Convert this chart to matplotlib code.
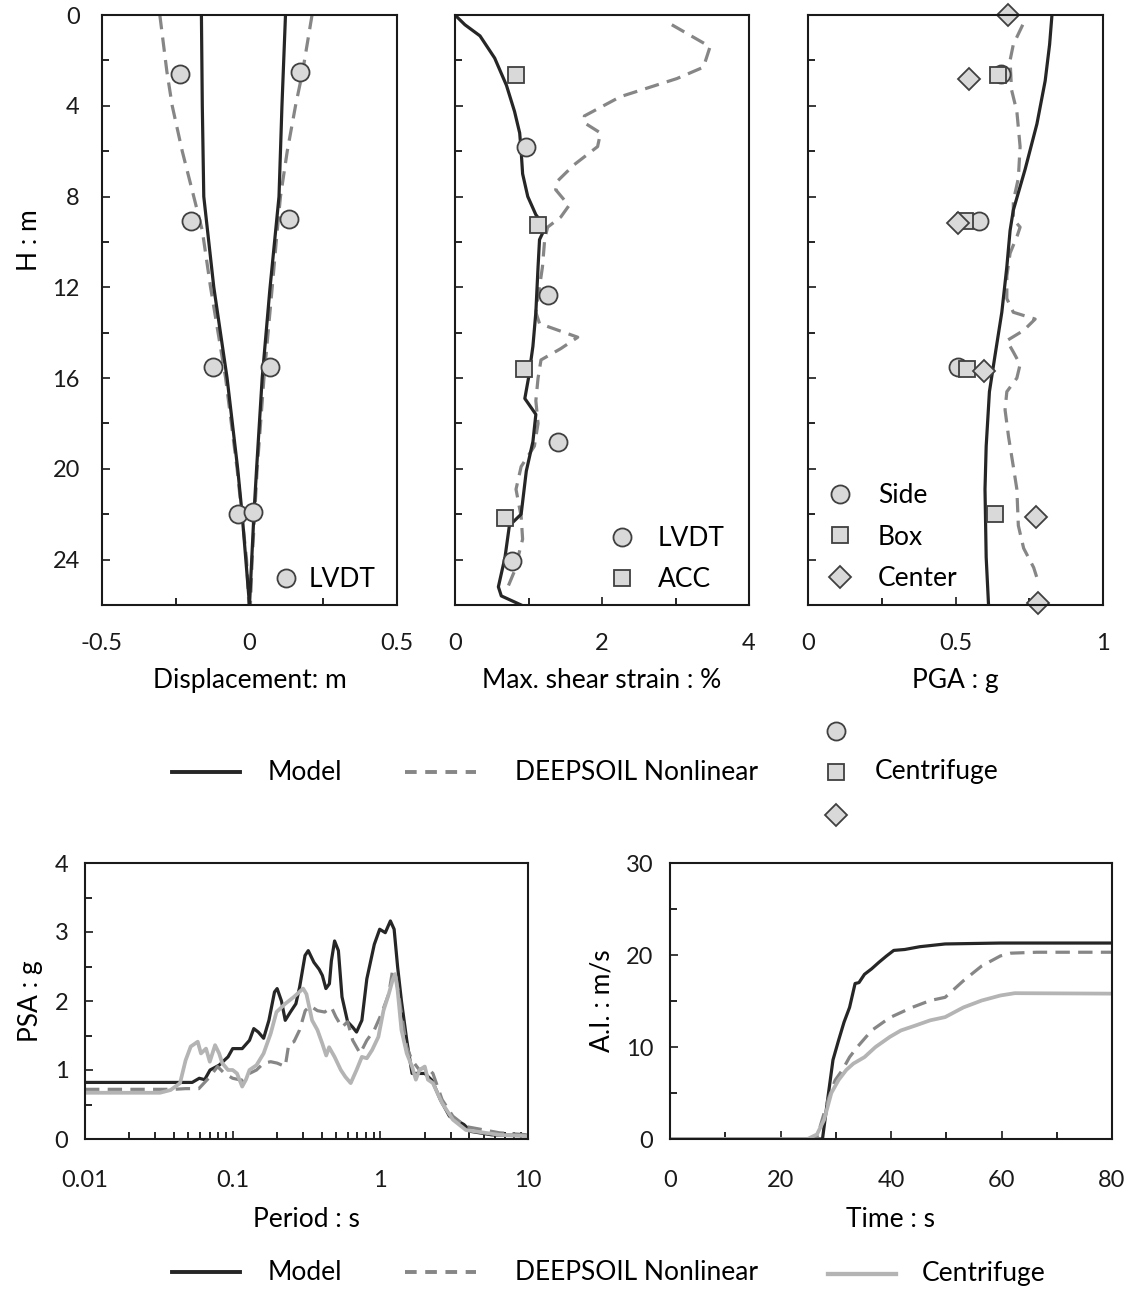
import numpy as np
import matplotlib
matplotlib.use("Agg")
import matplotlib.pyplot as plt
from matplotlib.ticker import MultipleLocator, FixedLocator, NullFormatter, LogLocator

plt.rcParams['font.family'] = ['Lato', 'DejaVu Sans']

# ---------------- data ----------------
# Displacement profile (m) vs depth H (m)
disp_model_pos_H = [0, 4, 8, 12.1, 16, 20, 22, 26]
disp_model_pos = [0.122, 0.11, 0.10, 0.069, 0.043, 0.024, 0.015, 0.0]
disp_model_neg_H = [0, 4, 8, 10, 12, 16, 20, 22, 26]
disp_model_neg = [-0.163, -0.16, -0.155, -0.138, -0.121, -0.076, -0.04, -0.025, 0.0]
disp_deep_pos_H = [0, 2.5, 4, 6, 8, 9.5, 12, 16, 20, 24, 26]
disp_deep_pos = [0.212, 0.18, 0.156, 0.128, 0.105, 0.094, 0.077, 0.049, 0.026, 0.009, 0.003]
disp_deep_neg_H = [0, 2.5, 4, 6, 8, 9.5, 12, 16, 20, 24, 26]
disp_deep_neg = [-0.304, -0.28, -0.262, -0.228, -0.189, -0.16, -0.132, -0.081, -0.042, -0.01, -0.002]
lvdt_disp = [-0.234, 0.17, -0.198, 0.134, -0.125, 0.071, -0.038, 0.012]
lvdt_disp_H = [2.6, 2.5, 9.1, 9.0, 15.5, 15.5, 22.0, 21.9]

# Max shear strain (%) vs depth
strain_model_H = [0, 0.43, 0.92, 1.9, 3.1, 4.25, 5.2, 6.0, 7.0, 8.0, 8.8, 9.35, 9.9, 11.1, 13.1,
                  14.6, 16.0, 16.9, 17.6, 18.8, 20.1, 22.0, 22.5, 23.9, 25.2, 25.6, 26]
strain_model = [0, 0.135, 0.34, 0.54, 0.70, 0.81, 0.88, 0.90, 0.92, 0.99, 1.10, 1.23, 1.15, 1.13, 1.10,
                1.06, 1.0, 0.95, 1.10, 1.06, 0.97, 0.90, 0.74, 0.68, 0.59, 0.63, 0.90]
strain_deep_H = [0.43, 1.4, 2.3, 2.8, 3.6, 4.45, 4.75, 5.2, 5.8, 6.6, 7.3, 7.7, 8.4, 8.9, 9.35, 9.9,
                 11.1, 13.1, 13.6, 14.2, 14.7, 15.2, 16.0, 17.0, 18.0, 19.0, 19.9, 20.9, 22.1, 23.1,
                 24.5, 25.2]
strain_deep = [2.95, 3.47, 3.38, 3.02, 2.25, 1.76, 1.76, 1.98, 1.94, 1.62, 1.40, 1.37, 1.55, 1.44, 1.26,
               1.22, 1.19, 1.10, 1.15, 1.67, 1.44, 1.17, 1.13, 1.10, 1.13, 1.08, 0.90, 0.83, 0.90, 0.92,
               0.81, 0.72]
lvdt_strain = [0.96, 1.26, 1.40, 0.77]
lvdt_strain_H = [5.8, 12.35, 18.8, 24.05]
acc_strain = [0.83, 1.13, 0.94, 0.68]
acc_strain_H = [2.65, 9.25, 15.6, 22.15]

# PGA (g) vs depth
pga_model_H = [0, 1.3, 2.9, 4.8, 6.8, 8.6, 9.5, 11.1, 13.1, 15.0, 16.6, 19.0, 20.9, 23.9, 26]
pga_model = [0.827, 0.819, 0.804, 0.776, 0.736, 0.696, 0.685, 0.674, 0.657, 0.634, 0.615, 0.604,
             0.60, 0.604, 0.612]
pga_deep_H = [0.43, 1.3, 2.0, 3.3, 4.25, 5.8, 7.2, 8.2, 9.0, 9.35, 9.7, 10.5, 11.5, 12.5, 13.1, 13.4,
              13.9, 14.35, 14.85, 15.4, 16.0, 16.6, 17.4, 18.6, 19.9, 20.9, 22.5, 23.5, 24.35, 24.8]
pga_deep = [0.728, 0.696, 0.685, 0.69, 0.708, 0.719, 0.713, 0.696, 0.696, 0.719, 0.71, 0.685, 0.674,
            0.674, 0.696, 0.77, 0.731, 0.674, 0.696, 0.719, 0.708, 0.674, 0.668, 0.68, 0.696, 0.708,
            0.713, 0.731, 0.765, 0.776]
side_pga = [0.655, 0.578, 0.51]
side_pga_H = [2.6, 9.1, 15.5]
box_pga = [0.645, 0.532, 0.54, 0.634]
box_pga_H = [2.65, 9.1, 15.6, 22.0]
center_pga = [0.677, 0.547, 0.507, 0.595, 0.773, 0.778]
center_pga_H = [0.0, 2.8, 9.15, 15.7, 22.1, 25.9]

# Response spectra PSA (g) vs period (s)
psa_model_T = [0.01, 0.0427, 0.0532, 0.0594, 0.0646, 0.0703, 0.081, 0.093, 0.1, 0.116, 0.13, 0.139,
               0.149, 0.162, 0.176, 0.192, 0.2, 0.214, 0.227, 0.246, 0.268, 0.284, 0.309, 0.325,
               0.355, 0.385, 0.405, 0.428, 0.452, 0.466, 0.49, 0.52, 0.55, 0.6, 0.65, 0.69, 0.75,
               0.81, 0.91, 0.99, 1.08, 1.17, 1.24, 1.31, 1.39, 1.51, 1.64, 1.79, 2.0, 2.24, 2.55,
               2.94, 3.68, 4.1, 5.7, 10]
psa_model = [0.82, 0.82, 0.82, 0.88, 0.86, 1.0, 1.07, 1.19, 1.31, 1.31, 1.43, 1.6, 1.55, 1.46, 1.72,
             2.13, 2.18, 2.0, 1.72, 1.84, 1.96, 2.2, 2.66, 2.73, 2.56, 2.46, 2.37, 2.18, 2.25, 2.58,
             2.87, 2.73, 2.06, 1.7, 1.62, 1.55, 1.72, 2.32, 2.82, 3.04, 2.99, 3.16, 3.04, 2.49, 2.0,
             1.43, 0.95, 0.95, 0.95, 0.85, 0.57, 0.33, 0.21, 0.11, 0.06, 0.05]
psa_deep_T = [0.01, 0.04, 0.048, 0.059, 0.07, 0.079, 0.088, 0.1, 0.116, 0.13, 0.145, 0.162, 0.181, 0.2,
              0.227, 0.24, 0.26, 0.284, 0.31, 0.335, 0.375, 0.42, 0.466, 0.5, 0.55, 0.6, 0.65, 0.73,
              0.81, 0.91, 1.02, 1.14, 1.21, 1.28, 1.39, 1.51, 1.64, 1.84, 2.04, 2.27, 2.62, 3.1, 3.8,
              6.4, 10]
psa_deep = [0.72, 0.72, 0.73, 0.73, 0.9, 1.05, 0.95, 0.88, 0.85, 0.95, 1.0, 1.1, 1.12, 1.1, 1.05, 1.38,
            1.41, 1.58, 1.86, 1.93, 1.86, 1.84, 1.91, 1.77, 1.62, 1.7, 1.43, 1.24, 1.43, 1.58, 1.82,
            2.1, 2.44, 2.34, 1.82, 1.33, 1.14, 1.0, 1.05, 0.95, 0.57, 0.33, 0.18, 0.09, 0.06]
psa_cent_T = [0.01, 0.0322, 0.038, 0.044, 0.048, 0.052, 0.058, 0.061, 0.066, 0.07, 0.076, 0.081, 0.085,
              0.093, 0.1, 0.107, 0.116, 0.123, 0.13, 0.145, 0.162, 0.181, 0.198, 0.227, 0.26, 0.3,
              0.316, 0.345, 0.375, 0.405, 0.43, 0.45, 0.49, 0.54, 0.58, 0.63, 0.69, 0.75, 0.81, 0.88,
              0.97, 1.05, 1.14, 1.21, 1.26, 1.31, 1.39, 1.51, 1.64, 1.74, 1.84, 2.0, 2.1, 2.27, 2.62,
              3.1, 3.8, 6.4, 10]
psa_cent = [0.67, 0.67, 0.71, 0.81, 1.14, 1.34, 1.41, 1.24, 1.31, 1.12, 1.36, 1.24, 1.1, 1.0, 1.0,
            0.95, 0.76, 0.86, 1.0, 1.07, 1.24, 1.53, 1.84, 1.96, 2.06, 2.18, 2.1, 1.72, 1.58, 1.38,
            1.21, 1.33, 1.19, 1.0, 0.9, 0.81, 1.0, 1.19, 1.17, 1.29, 1.48, 1.86, 2.1, 2.3, 2.39,
            2.15, 1.58, 1.24, 1.05, 0.86, 1.0, 1.05, 0.86, 0.81, 0.52, 0.28, 0.13, 0.06, 0.04]

# Arias intensity (m/s) vs time (s)
ai_model_t = [0, 27.6, 28.6, 29.5, 30.5, 31.5, 32.5, 33.5, 34.2, 35.2, 36.5, 37.8, 39.2, 40.5, 42.5,
              45.2, 49.8, 59.8, 80]
ai_model = [0, 0, 4.6, 8.6, 10.7, 12.7, 14.3, 16.9, 17.0, 17.9, 18.5, 19.2, 19.9, 20.5, 20.6, 20.9,
            21.2, 21.3, 21.3]
ai_deep_t = [0, 26.5, 27.2, 28.6, 29.9, 31.2, 32.5, 33.9, 36.5, 39.8, 43.8, 47.1, 49.8, 53.1, 56.4,
             59.8, 61.7, 66.4, 80]
ai_deep = [0, 0, 1.4, 4.25, 6.4, 7.5, 8.9, 10.0, 11.8, 13.2, 14.3, 15.05, 15.4, 17.2, 18.8, 19.9,
           20.2, 20.3, 20.3]
ai_cent_t = [0, 24.9, 26.6, 27.9, 29.2, 30.5, 31.9, 33.2, 35.2, 37.2, 39.8, 41.8, 44.5, 47.1, 49.8,
             53.1, 56.4, 59.8, 62.4, 80]
ai_cent = [0, 0, 0.5, 2.1, 5.0, 6.4, 7.5, 8.2, 8.9, 10.0, 11.1, 11.8, 12.35, 12.9, 13.25, 14.3, 15.05,
           15.6, 15.85, 15.8]

# ---------------- styles ----------------
C_MODEL = '#262626'
C_DEEP = '#868686'
C_CENT = '#b4b4b4'
MFC = '#d9d9d9'
MEC = '#404040'
LW = 2.3
DASH = (0, (4.5, 2.6))
TFS = 17   # tick labels
LFS = 19   # axis labels / legends

W, H = 1136, 1293
fig = plt.figure(figsize=(W / 100, H / 100), dpi=100)


def rect(x0, y0, x1, y1):
    return [x0 / W, 1 - y1 / H, (x1 - x0) / W, (y1 - y0) / H]


def style_axes(ax):
    for s in ax.spines.values():
        s.set_linewidth(1.5)
        s.set_color('#1a1a1a')
    ax.tick_params(direction='in', length=6, width=1.2, labelsize=TFS, colors='#1a1a1a')
    ax.tick_params(which='minor', direction='in', length=5, width=1.2)


mk = dict(markerfacecolor=MFC, markeredgecolor=MEC, markeredgewidth=1.3, linestyle='none')

# ---- top left: displacement
ax1 = fig.add_axes(rect(102, 15, 397, 605))
ax1.plot(disp_deep_pos, disp_deep_pos_H, color=C_DEEP, lw=LW, ls=DASH)
ax1.plot(disp_deep_neg, disp_deep_neg_H, color=C_DEEP, lw=LW, ls=DASH)
ax1.plot(disp_model_pos, disp_model_pos_H, color=C_MODEL, lw=LW)
ax1.plot(disp_model_neg, disp_model_neg_H, color=C_MODEL, lw=LW)
ax1.plot(lvdt_disp, lvdt_disp_H, marker='o', markersize=13, label='LVDT', **mk)
ax1.set_xlim(-0.5, 0.5)
ax1.set_ylim(26, 0)

# ---- top middle: strain
ax2 = fig.add_axes(rect(455, 15, 749, 605))
ax2.plot(strain_deep, strain_deep_H, color=C_DEEP, lw=LW, ls=DASH)
ax2.plot(strain_model, strain_model_H, color=C_MODEL, lw=LW)
ax2.plot(lvdt_strain, lvdt_strain_H, marker='o', markersize=13, label='LVDT', **mk)
ax2.plot(acc_strain, acc_strain_H, marker='s', markersize=11, label='ACC', **mk)
ax2.set_xlim(0, 4)
ax2.set_ylim(26, 0)

# ---- top right: PGA
ax3 = fig.add_axes(rect(808, 15, 1103, 605))
ax3.plot(pga_deep, pga_deep_H, color=C_DEEP, lw=LW, ls=DASH)
ax3.plot(pga_model, pga_model_H, color=C_MODEL, lw=LW)
ax3.plot(side_pga, side_pga_H, marker='o', markersize=13, label='Side', **mk)
ax3.plot(box_pga, box_pga_H, marker='s', markersize=11, label='Box', **mk)
ax3.plot(center_pga, center_pga_H, marker='D', markersize=11, label='Center', clip_on=False, **mk)
ax3.set_xlim(0, 1)
ax3.set_ylim(26, 0)

for ax in (ax1, ax2, ax3):
    style_axes(ax)
    ax.yaxis.set_major_locator(MultipleLocator(4))
    ax.yaxis.set_minor_locator(MultipleLocator(2))
    ax.tick_params(axis='x', pad=20)
    ax.tick_params(axis='y', pad=16)
ax1.set_xticks([-0.5, 0, 0.5])
ax1.set_xticklabels(['-0.5', '0', '0.5'])
ax1.xaxis.set_minor_locator(FixedLocator([-0.25, 0.25]))
ax2.set_xticks([0, 2, 4])
ax2.xaxis.set_minor_locator(FixedLocator([1, 3]))
ax3.set_xticks([0, 0.5, 1])
ax3.set_xticklabels(['0', '0.5', '1'])
ax3.xaxis.set_minor_locator(FixedLocator([0.25, 0.75]))
for ax in (ax2, ax3):
    ax.set_yticklabels([])

ax1.set_ylabel('H : m', fontsize=LFS)
ax1.yaxis.set_label_coords(-0.205, 1 - (240 - 15) / 590)
ax1.set_xlabel('Displacement: m', fontsize=LFS, labelpad=10)
ax2.set_xlabel('Max. shear strain : %', fontsize=LFS, labelpad=10)
ax3.set_xlabel('PGA : g', fontsize=LFS, labelpad=10)

leg_kw = dict(frameon=False, fontsize=LFS, borderaxespad=0.2, handlelength=1.2)
ax1.legend(loc='lower right', bbox_to_anchor=(0.98, -0.005), handletextpad=0.25, **leg_kw)
ax2.legend(loc='lower right', bbox_to_anchor=(0.97, -0.005), handletextpad=0.75,
           labelspacing=0.6, **leg_kw)
ax3.legend(loc='lower left', bbox_to_anchor=(0.0, -0.003), handletextpad=0.85,
           labelspacing=0.62, **leg_kw)

# ---- bottom left: PSA
ax4 = fig.add_axes(rect(85, 863, 528, 1139))
ax4.plot(psa_model_T, psa_model, color=C_MODEL, lw=LW)
ax4.plot(psa_deep_T, psa_deep, color=C_DEEP, lw=LW, ls=DASH)
ax4.plot(psa_cent_T, psa_cent, color=C_CENT, lw=LW + 0.4)
ax4.set_xscale('log')
ax4.set_xlim(0.01, 10)
ax4.set_ylim(0, 4)
style_axes(ax4)
ax4.set_xticks([0.01, 0.1, 1, 10])
ax4.set_xticklabels(['0.01', '0.1', '1', '10'])
ax4.xaxis.set_minor_locator(LogLocator(base=10, subs=np.arange(2, 10)))
ax4.xaxis.set_minor_formatter(NullFormatter())
ax4.yaxis.set_major_locator(MultipleLocator(1))
ax4.yaxis.set_minor_locator(MultipleLocator(0.5))
ax4.tick_params(axis='x', pad=22)
ax4.tick_params(axis='y', pad=12)
ax4.set_xlabel('Period : s', fontsize=LFS, labelpad=12)
ax4.set_ylabel('PSA : g', fontsize=LFS, labelpad=8)

# ---- bottom right: Arias intensity
ax5 = fig.add_axes(rect(670, 863, 1112, 1139))
ax5.plot(ai_model_t, ai_model, color=C_MODEL, lw=LW)
ax5.plot(ai_deep_t, ai_deep, color=C_DEEP, lw=LW, ls=DASH)
ax5.plot(ai_cent_t, ai_cent, color=C_CENT, lw=LW + 0.4)
ax5.set_xlim(0, 80)
ax5.set_ylim(0, 30)
style_axes(ax5)
ax5.xaxis.set_major_locator(MultipleLocator(20))
ax5.xaxis.set_minor_locator(MultipleLocator(10))
ax5.yaxis.set_major_locator(MultipleLocator(10))
ax5.yaxis.set_minor_locator(MultipleLocator(5))
ax5.tick_params(axis='x', pad=22)
ax5.tick_params(axis='y', pad=12)
ax5.set_xlabel('Time : s', fontsize=LFS, labelpad=12)
ax5.set_ylabel('A.I. : m/s', fontsize=LFS, labelpad=8)

# ---- shared legends (drawn in a pixel-coordinate overlay)
lg = fig.add_axes([0, 0, 1, 1], zorder=-1)
lg.set_xlim(0, W)
lg.set_ylim(H, 0)
lg.axis('off')
for yy in (772, 1272):
    lg.plot([172, 240], [yy, yy], color=C_MODEL, lw=LW + 0.5)
    lg.text(268, yy, 'Model', fontsize=LFS, va='center')
    lg.plot([405, 476], [yy, yy], color=C_DEEP, lw=LW + 0.5, ls=(0, (3, 2.2)))
    lg.text(515, yy, 'DEEPSOIL Nonlinear', fontsize=LFS, va='center')
lg.plot([836], [731], marker='o', markersize=13, **mk)
lg.plot([836], [772], marker='s', markersize=11, **mk)
lg.plot([836], [815], marker='D', markersize=11, **mk)
lg.text(875, 772, 'Centrifuge', fontsize=LFS, va='center')
lg.plot([828, 896], [1274, 1274], color=C_CENT, lw=LW + 0.8)
lg.text(922, 1274, 'Centrifuge', fontsize=LFS, va='center')

fig.savefig('out.png', dpi=100)
